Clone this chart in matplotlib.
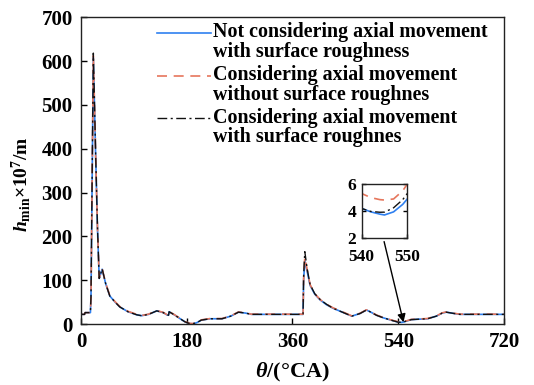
import matplotlib
matplotlib.use("Agg")
import matplotlib.pyplot as plt
from matplotlib.lines import Line2D

plt.rcParams["font.family"] = ["Liberation Serif", "DejaVu Serif"]
plt.rcParams["font.weight"] = "bold"
plt.rcParams["mathtext.fontset"] = "custom"
plt.rcParams["mathtext.rm"] = "Liberation Serif:bold"
plt.rcParams["mathtext.it"] = "Liberation Serif:bold:italic"
plt.rcParams["mathtext.bf"] = "Liberation Serif:bold"

# crank angle (deg CA)
theta = [0, 6, 7, 16, 17, 21, 25, 28, 31, 36, 42, 49, 58, 66, 80, 95, 103, 115,
         129, 140, 146, 149, 150, 160, 170, 177, 185, 190, 197, 205, 220, 240,
         255, 268, 280, 290, 300, 340, 377, 378, 379, 381, 385, 390, 398, 407,
         418, 429, 445, 461, 475, 486, 495, 503, 515, 530, 540, 542, 544, 545,
         547, 549, 550, 555, 562, 575, 590, 605, 615, 622, 635, 645, 680, 720]

# minimum film thickness (x1e-7 m)
h_no_axial_rough = [22, 22, 26, 26, 60, 608, 380, 220, 104, 125, 92, 64, 50, 39,
                    28, 21, 19, 22, 30, 26, 21, 20, 28, 20, 11, 5, 1, 0.5, 3, 9,
                    12, 12, 18, 27, 25, 22, 22, 22, 22, 22, 100, 145, 120, 88,
                    68, 55, 44, 36, 27, 18, 24, 32, 26, 20, 14, 8,
                    4.2, 3.95, 3.78, 3.72, 3.95, 4.5, 4.9,
                    7, 10, 11, 12, 18, 25, 27, 24, 22, 22, 22]
h_axial_smooth = [22, 22, 26, 26, 60, 612, 382, 222, 105, 126, 93, 65, 51, 40,
                  29, 22, 19.5, 22.5, 30.5, 26.5, 21.5, 20.5, 28.5, 20.5, 11.5,
                  5.5, 1.5, 1, 3.5, 9.5, 12.5, 12.5, 18.5, 27.5, 25.5, 22.5,
                  22.5, 22.5, 22.5, 22.5, 104, 152, 124, 90, 69, 56, 45, 37,
                  28, 18.5, 24.5, 32.5, 26.5, 20.5, 14.5, 8.5,
                  5.3, 5.0, 4.85, 4.82, 4.9, 5.5, 6.0,
                  7.5, 10.5, 11.5, 12.5, 18.5, 25.5, 27.5, 24.5, 22.5, 22.5, 22.5]
h_axial_rough = [22, 22, 26, 26, 62, 618, 384, 222, 104, 126, 92, 64, 50, 39,
                 28, 21, 19, 22, 30, 26, 21, 20, 28, 20, 11, 5, 1, 0.5, 3, 9,
                 12, 12, 18, 27, 25, 22, 22, 22, 22, 22, 110, 165, 126, 90,
                 69, 56, 45, 36, 27, 18, 24, 32, 26, 20, 14, 8,
                 4.2, 3.98, 3.92, 3.93, 4.25, 4.85, 5.3,
                 7, 10, 11, 12, 18, 25, 27, 24, 22, 22, 22]

labels = ["Not considering axial movement\nwith surface roughness",
          "Considering axial movement\nwithout surface roughnes",
          "Considering axial movement\nwith surface roughnes"]

x_ticks = [0, 180, 360, 540, 720]
y_ticks = [0, 100, 200, 300, 400, 500, 600, 700]
inset_x_ticks = [540, 550]
inset_y_ticks = [2, 4, 6]

blue = "#2f80f0"
red = "#e6765c"
black = "#111111"

styles = [
    dict(color=blue, lw=1.2, ls="-"),
    dict(color=red, lw=1.2, ls=(0, (6, 4))),
    dict(color=black, lw=1.0, ls=(0, (7, 2.5, 1.5, 2.5))),
]
series = [h_no_axial_rough, h_axial_smooth, h_axial_rough]

fig = plt.figure(figsize=(5.34, 3.85), dpi=100)
ax = fig.add_axes([0.1517, 0.1584, 0.792, 0.797])

for ys, st in zip(series, styles):
    ax.plot(theta, ys, **st)

ax.set_xlim(0, 720)
ax.set_ylim(0, 700)
ax.set_xticks(x_ticks)
ax.set_yticks(y_ticks)
ax.tick_params(direction="in", length=4, width=1, labelsize=15)
ax.tick_params(axis="y", pad=6)
ax.tick_params(axis="x", pad=6)
for s in ax.spines.values():
    s.set_linewidth(1.0)
    s.set_color("#222222")

ax.set_xlabel(r"$\theta$/(°CA)", fontsize=16, fontweight="bold", labelpad=6)
ax.set_ylabel(r"$h_{\mathrm{min}}\mathrm{\times10^{7}/m}$", fontsize=14)
ax.yaxis.set_label_coords(-0.113, 0.455)

# legend drawn by hand so each handle sits on the first text line
handle_x = (0.180, 0.307)
text_x = 0.312
handle_y = [0.950, 0.809, 0.670]
base_y = [0.927, 0.786, 0.648]
line_gap = 17.3 / 307
for st, lab, hy, by in zip(styles, labels, handle_y, base_y):
    ax.add_line(Line2D(list(handle_x), [hy, hy], transform=ax.transAxes, **st))
    # baseline alignment of multi-line text anchors the last line
    ax.text(text_x, by - line_gap, lab, transform=ax.transAxes, fontsize=14.4,
            fontweight="bold", va="baseline", ha="left", linespacing=0.99)

# zoomed view around the minimum
ins = fig.add_axes([0.6773, 0.381, 0.0854, 0.141])
for ys, st in zip(series, styles):
    ins.plot(theta, ys, **st)
ins.set_xlim(540, 550)
ins.set_ylim(2, 6)
ins.set_xticks(inset_x_ticks)
ins.set_yticks(inset_y_ticks)
ins.tick_params(direction="in", length=3, width=1, labelsize=12.5, right=True)
ins.tick_params(axis="y", pad=4)
ins.tick_params(axis="x", pad=8)
for s in ins.spines.values():
    s.set_linewidth(1.0)
    s.set_color("#222222")

ax.annotate("", xy=(549, 4), xytext=(516, 188),
            arrowprops=dict(arrowstyle="-|>", color="black", lw=1.0,
                            mutation_scale=12, shrinkA=0, shrinkB=0))

fig.savefig("out.png", dpi=100)
